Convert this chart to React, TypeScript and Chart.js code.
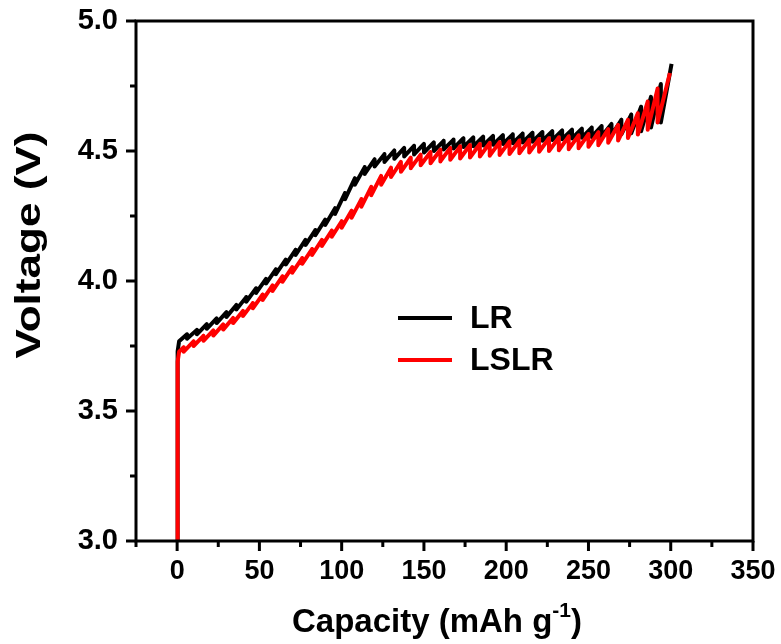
import React, { useEffect, useRef } from "react";
import { Chart, registerables } from "chart.js";

Chart.register(...registerables);

// ---- axis ticks ----
const X_MAJOR = [0, 50, 100, 150, 200, 250, 300, 350];
const X_MINOR = [-25, 25, 75, 125, 175, 225, 275, 325];
const Y_MAJOR = [3.0, 3.5, 4.0, 4.5, 5.0];
const Y_MINOR = [3.25, 3.75, 4.25, 4.75];

// ---- LR (black) ----
const LR_START_CAP = [0, 0.3, 1.2];
const LR_START_V = [3.0, 3.73, 3.768];
const LR_CAP = [
  6, 12, 18, 24, 30, 36, 42, 48, 54, 60,
  66, 72, 78, 84, 90, 96, 102, 108, 114, 120,
  126, 132, 138, 144, 150, 156, 162, 168, 174, 180,
  186, 192, 198, 204, 210, 216, 222, 228, 234, 240,
  246, 252, 258, 264, 270, 276, 282, 288, 294, 300.5,
];
const LR_PEAK = [
  3.795, 3.812, 3.834, 3.856, 3.88, 3.908, 3.938, 3.972, 4.008, 4.045,
  4.082, 4.12, 4.158, 4.196, 4.236, 4.28, 4.338, 4.395, 4.438, 4.468,
  4.488, 4.502, 4.512, 4.52, 4.527, 4.533, 4.539, 4.544, 4.549, 4.552,
  4.555, 4.558, 4.561, 4.564, 4.567, 4.57, 4.573, 4.576, 4.579, 4.582,
  4.586, 4.59, 4.596, 4.604, 4.62, 4.64, 4.67, 4.708, 4.758, 4.835,
];
const LR_REST = [
  3.778, 3.795, 3.816, 3.838, 3.862, 3.89, 3.92, 3.954, 3.99, 4.026,
  4.063, 4.1, 4.138, 4.176, 4.215, 4.258, 4.314, 4.37, 4.412, 4.44,
  4.458, 4.47, 4.479, 4.487, 4.494, 4.5, 4.506, 4.51, 4.515, 4.518,
  4.521, 4.524, 4.527, 4.53, 4.533, 4.536, 4.539, 4.542, 4.545, 4.548,
  4.551, 4.554, 4.557, 4.56, 4.564, 4.568, 4.576, 4.59, 4.61, 4.835,
];

// ---- LSLR (red) ----
const LSLR_START_CAP = [0, 0.3, 1.2];
const LSLR_START_V = [3.0, 3.69, 3.728];
const LSLR_CAP = [
  4, 10, 16, 22, 28, 34, 40, 46, 52, 58,
  64, 70, 76, 82, 88, 94, 100, 106, 112, 118,
  124, 130, 136, 142, 148, 154, 160, 166, 172, 178,
  184, 190, 196, 202, 208, 214, 220, 226, 232, 238,
  244, 250, 256, 262, 268, 274, 280, 286, 292, 299.5,
];
const LSLR_PEAK = [
  3.745, 3.768, 3.789, 3.81, 3.833, 3.858, 3.885, 3.915, 3.948, 3.983,
  4.018, 4.053, 4.088, 4.123, 4.158, 4.194, 4.23, 4.27, 4.315, 4.362,
  4.404, 4.436, 4.458, 4.474, 4.486, 4.496, 4.505, 4.512, 4.518, 4.523,
  4.527, 4.531, 4.534, 4.537, 4.54, 4.543, 4.546, 4.549, 4.552, 4.556,
  4.56, 4.565, 4.572, 4.584, 4.6, 4.62, 4.645, 4.69, 4.74, 4.8,
];
const LSLR_REST = [
  3.728, 3.75, 3.77, 3.79, 3.813, 3.838, 3.865, 3.895, 3.927, 3.962,
  3.997, 4.032, 4.066, 4.1, 4.135, 4.17, 4.205, 4.243, 4.286, 4.33,
  4.37, 4.4, 4.42, 4.434, 4.445, 4.453, 4.46, 4.466, 4.471, 4.475,
  4.479, 4.482, 4.485, 4.488, 4.491, 4.494, 4.497, 4.5, 4.503, 4.507,
  4.511, 4.516, 4.522, 4.532, 4.54, 4.55, 4.563, 4.582, 4.61, 4.8,
];

const SERIES_NAMES = ["LR", "LSLR"];
const SERIES_COLORS = ["#000000", "#ff0000"];
const X_TITLE_MAIN = "Capacity (mAh g";
const X_TITLE_SUP = "-1";
const X_TITLE_END = ")";
const Y_TITLE = "Voltage (V)";

const FONT = "'Liberation Sans', Arial, Helvetica, sans-serif";

function buildSeries(
  startCap: number[],
  startV: number[],
  cap: number[],
  peak: number[],
  rest: number[]
) {
  const pts: { x: number; y: number }[] = startCap.map((c, i) => ({ x: c, y: startV[i] }));
  cap.forEach((c, i) => {
    pts.push({ x: c, y: peak[i] });
    if (i < cap.length - 1) pts.push({ x: c, y: rest[i] });
  });
  return pts;
}

const framePlugin = {
  id: "frameAndText",
  afterDraw(chart: any) {
    const { ctx, chartArea } = chart;
    const { left, right, top, bottom } = chartArea;
    const xs = chart.scales.x;
    const ys = chart.scales.y;
    ctx.save();
    ctx.strokeStyle = "#000";
    ctx.fillStyle = "#000";
    ctx.lineWidth = 3;
    ctx.lineCap = "butt";
    ctx.strokeRect(left, top, right - left, bottom - top);

    const seg = (x1: number, y1: number, x2: number, y2: number) => {
      ctx.beginPath();
      ctx.moveTo(x1, y1);
      ctx.lineTo(x2, y2);
      ctx.stroke();
    };
    X_MAJOR.forEach((v) => {
      const p = xs.getPixelForValue(v);
      seg(p, bottom, p, bottom + 10);
    });
    X_MINOR.forEach((v) => {
      const p = xs.getPixelForValue(v);
      seg(p, bottom, p, bottom + 6);
    });
    Y_MAJOR.forEach((v) => {
      const p = ys.getPixelForValue(v);
      seg(left - 10, p, left, p);
    });
    Y_MINOR.forEach((v) => {
      const p = ys.getPixelForValue(v);
      seg(left - 6, p, left, p);
    });

    // x title with superscript
    ctx.textBaseline = "alphabetic";
    ctx.textAlign = "left";
    const mainFont = `bold 33px ${FONT}`;
    const supFont = `bold 21px ${FONT}`;
    ctx.font = mainFont;
    const w1 = ctx.measureText(X_TITLE_MAIN).width;
    const w3 = ctx.measureText(X_TITLE_END).width;
    ctx.font = supFont;
    const w2 = ctx.measureText(X_TITLE_SUP).width;
    const total = w1 + w2 + w3;
    const cx = 437;
    const x0 = cx - total / 2;
    const base = 632;
    ctx.font = mainFont;
    ctx.fillText(X_TITLE_MAIN, x0, base);
    ctx.font = supFont;
    ctx.fillText(X_TITLE_SUP, x0 + w1, base - 15);
    ctx.font = mainFont;
    ctx.fillText(X_TITLE_END, x0 + w1 + w2, base);

    // y title (rotated)
    ctx.save();
    ctx.font = `bold 35px ${FONT}`;
    const wy = ctx.measureText(Y_TITLE).width;
    const sx = 227 / wy;
    ctx.translate(40, 245);
    ctx.rotate(-Math.PI / 2);
    ctx.scale(sx, 1);
    ctx.textAlign = "center";
    ctx.textBaseline = "alphabetic";
    ctx.fillText(Y_TITLE, 0, 0);
    ctx.restore();

    // legend
    const lx1 = left + 262;
    const lx2 = left + 316;
    const ly = [top + 297, top + 339];
    ctx.font = `bold 32px ${FONT}`;
    ctx.textAlign = "left";
    ctx.textBaseline = "middle";
    SERIES_NAMES.forEach((name, i) => {
      ctx.strokeStyle = SERIES_COLORS[i];
      ctx.lineWidth = 4;
      seg(lx1, ly[i], lx2, ly[i]);
      ctx.fillStyle = "#000";
      ctx.fillText(name, left + 334, ly[i] + 1);
    });
    ctx.restore();
  },
};

const zeroPad = (s: any) => {
  s.paddingTop = 0;
  s.paddingBottom = 0;
  s.paddingLeft = 0;
  s.paddingRight = 0;
};

export default function App() {
  const ref = useRef<HTMLCanvasElement | null>(null);
  useEffect(() => {
    if (!ref.current) return;
    const lr = buildSeries(LR_START_CAP, LR_START_V, LR_CAP, LR_PEAK, LR_REST);
    const lslr = buildSeries(LSLR_START_CAP, LSLR_START_V, LSLR_CAP, LSLR_PEAK, LSLR_REST);
    const tickFont = { family: FONT, weight: "bold" as const };
    const chart = new Chart(ref.current, {
      type: "line",
      data: {
        datasets: [
          {
            label: SERIES_NAMES[0],
            data: lr,
            borderColor: SERIES_COLORS[0],
            borderWidth: 4,
            pointRadius: 0,
            tension: 0,
            borderJoinStyle: "round",
            order: 2,
          },
          {
            label: SERIES_NAMES[1],
            data: lslr,
            borderColor: SERIES_COLORS[1],
            borderWidth: 4,
            pointRadius: 0,
            tension: 0,
            borderJoinStyle: "round",
            order: 1,
          },
        ],
      },
      options: {
        responsive: false,
        animation: false,
        parsing: false as any,
        layout: { padding: { top: 21, right: 28, left: 0, bottom: 0 } },
        plugins: { legend: { display: false }, tooltip: { enabled: false } },
        scales: {
          x: {
            type: "linear",
            min: -25,
            max: 350,
            afterBuildTicks: (s: any) => {
              s.ticks = X_MAJOR.map((v) => ({ value: v }));
            },
            afterFit: (s: any) => {
              s.height = 103;
              zeroPad(s);
            },
            grid: { display: false, drawTicks: false },
            border: { display: false },
            ticks: {
              color: "#000",
              padding: 14,
              maxRotation: 0,
              autoSkip: false,
              font: { ...tickFont, size: 27 },
              callback: (v: any) => String(v),
            },
          },
          y: {
            type: "linear",
            min: 3.0,
            max: 5.0,
            afterBuildTicks: (s: any) => {
              s.ticks = Y_MAJOR.map((v) => ({ value: v }));
            },
            afterFit: (s: any) => {
              s.width = 136;
              zeroPad(s);
            },
            grid: { display: false, drawTicks: false },
            border: { display: false },
            ticks: {
              color: "#000",
              padding: 18,
              autoSkip: false,
              font: { ...tickFont, size: 29 },
              callback: (v: any) => Number(v).toFixed(1),
            },
          },
        },
      },
      plugins: [framePlugin],
    });
    return () => chart.destroy();
  }, []);
  return (
    <div style={{ position: "fixed", left: 0, top: 0, width: 781, height: 644, background: "#fff" }}>
      <canvas ref={ref} width={781} height={644} style={{ display: "block" }} />
    </div>
  );
}
